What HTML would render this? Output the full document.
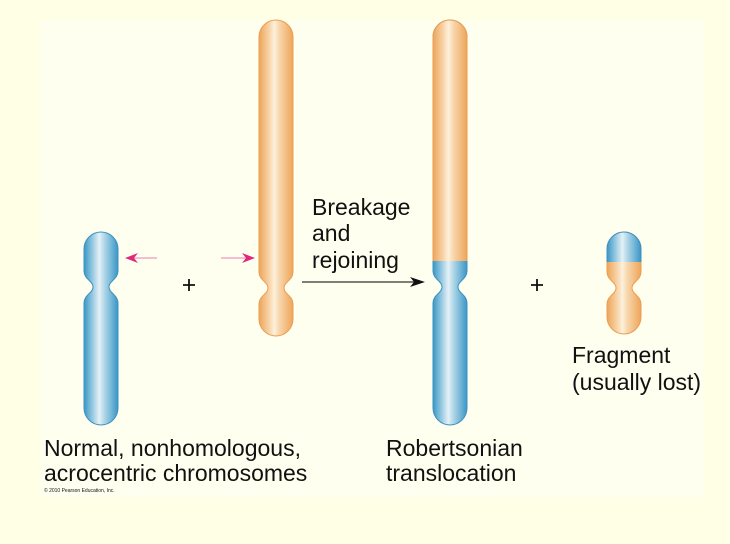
<!DOCTYPE html>
<html><head><meta charset="utf-8"><style>
html,body{margin:0;padding:0;background:#ffffe6;}
svg{display:block}
text{font-family:"Liberation Sans",sans-serif;fill:#111;}
</style></head><body>
<svg width="730" height="544" viewBox="0 0 730 544">
<defs>
<linearGradient id="b" x1="0" x2="1" y1="0" y2="0">
<stop offset="0" stop-color="#3a97c6"/><stop offset="0.3" stop-color="#a9d3e6"/><stop offset="0.45" stop-color="#e4f1f6"/><stop offset="0.6" stop-color="#b0d6e8"/><stop offset="1" stop-color="#3a97c6"/></linearGradient>
<linearGradient id="o" x1="0" x2="1" y1="0" y2="0">
<stop offset="0" stop-color="#eea55a"/><stop offset="0.3" stop-color="#f8d4a8"/><stop offset="0.45" stop-color="#fdf0dc"/><stop offset="0.6" stop-color="#f8d6ac"/><stop offset="1" stop-color="#eea55a"/></linearGradient>
<clipPath id="top1"><rect x="0" y="0" width="730" height="261"/></clipPath>
<clipPath id="top2"><rect x="0" y="0" width="730" height="262"/></clipPath>
</defs>
<rect x="40" y="20" width="663" height="477" fill="#fffff0"/>
<path d="M84 249 A17 17 0 0 1 118 249 L118 271 C118 279 109 281 109 287 C109 293 118 295 118 303 L118 408 A17 17 0 0 1 84 408 L84 303 C84 295 93 293 93 287 C93 281 84 279 84 271 Z" fill="url(#b)" stroke="#3a92c0" stroke-width="1"/>
<path d="M259 37 A17 17 0 0 1 293 37 L293 272 C293 280 284 282 284 288 C284 294 293 296 293 304 L293 319 A17 17 0 0 1 259 319 L259 304 C259 296 268 294 268 288 C268 282 259 280 259 272 Z" fill="url(#o)" stroke="#eb9e50" stroke-width="1"/>
<path d="M433 37 A17 17 0 0 1 467 37 L467 271 C467 279 458 281 458 287 C458 293 467 295 467 303 L467 408 A17 17 0 0 1 433 408 L433 303 C433 295 442 293 442 287 C442 281 433 279 433 271 Z" fill="url(#b)" stroke="#3a92c0" stroke-width="1"/>
<path clip-path="url(#top1)" d="M433 37 A17 17 0 0 1 467 37 L467 271 C467 279 458 281 458 287 C458 293 467 295 467 303 L467 408 A17 17 0 0 1 433 408 L433 303 C433 295 442 293 442 287 C442 281 433 279 433 271 Z" fill="url(#o)" stroke="#eb9e50" stroke-width="1"/>
<path d="M607 249 A17 17 0 0 1 641 249 L641 272 C641 280 632 282 632 288 C632 294 641 296 641 304 L641 317 A17 17 0 0 1 607 317 L607 304 C607 296 616 294 616 288 C616 282 607 280 607 272 Z" fill="url(#o)" stroke="#eb9e50" stroke-width="1"/>
<path clip-path="url(#top2)" d="M607 249 A17 17 0 0 1 641 249 L641 272 C641 280 632 282 632 288 C632 294 641 296 641 304 L641 317 A17 17 0 0 1 607 317 L607 304 C607 296 616 294 616 288 C616 282 607 280 607 272 Z" fill="url(#b)" stroke="#3a92c0" stroke-width="1"/>
<line x1="157" y1="258" x2="132" y2="258" stroke="#f3a6c6" stroke-width="1.5"/>
<path d="M125 258 L138 253 L134 258 L138 263 Z" fill="#e0287a"/>
<line x1="221" y1="258" x2="248" y2="258" stroke="#f3a6c6" stroke-width="1.5"/>
<path d="M255 258 L242 253 L246 258 L242 263 Z" fill="#e0287a"/>
<line x1="302" y1="282" x2="418" y2="282" stroke="#333" stroke-width="1.2"/>
<path d="M425 282 L410 277 L414 282 L410 287 Z" fill="#111"/>
<path d="M183 285 H195 M189 279 V291" stroke="#111" stroke-width="1.8"/>
<path d="M531 285 H543 M537 279 V291" stroke="#111" stroke-width="1.8"/>
<text x="312" y="215" font-size="23">Breakage</text>
<text x="312" y="241" font-size="23">and</text>
<text x="312" y="268" font-size="23">rejoining</text>
<text x="44" y="456" font-size="23">Normal, nonhomologous,</text>
<text x="44" y="481" font-size="23">acrocentric chromosomes</text>
<text x="44" y="492" font-size="5">© 2010 Pearson Education, Inc.</text>
<text x="386" y="456" font-size="23">Robertsonian</text>
<text x="386" y="481" font-size="23">translocation</text>
<text x="572" y="363" font-size="23">Fragment</text>
<text x="572" y="390" font-size="23">(usually lost)</text>
</svg>
</body></html>
